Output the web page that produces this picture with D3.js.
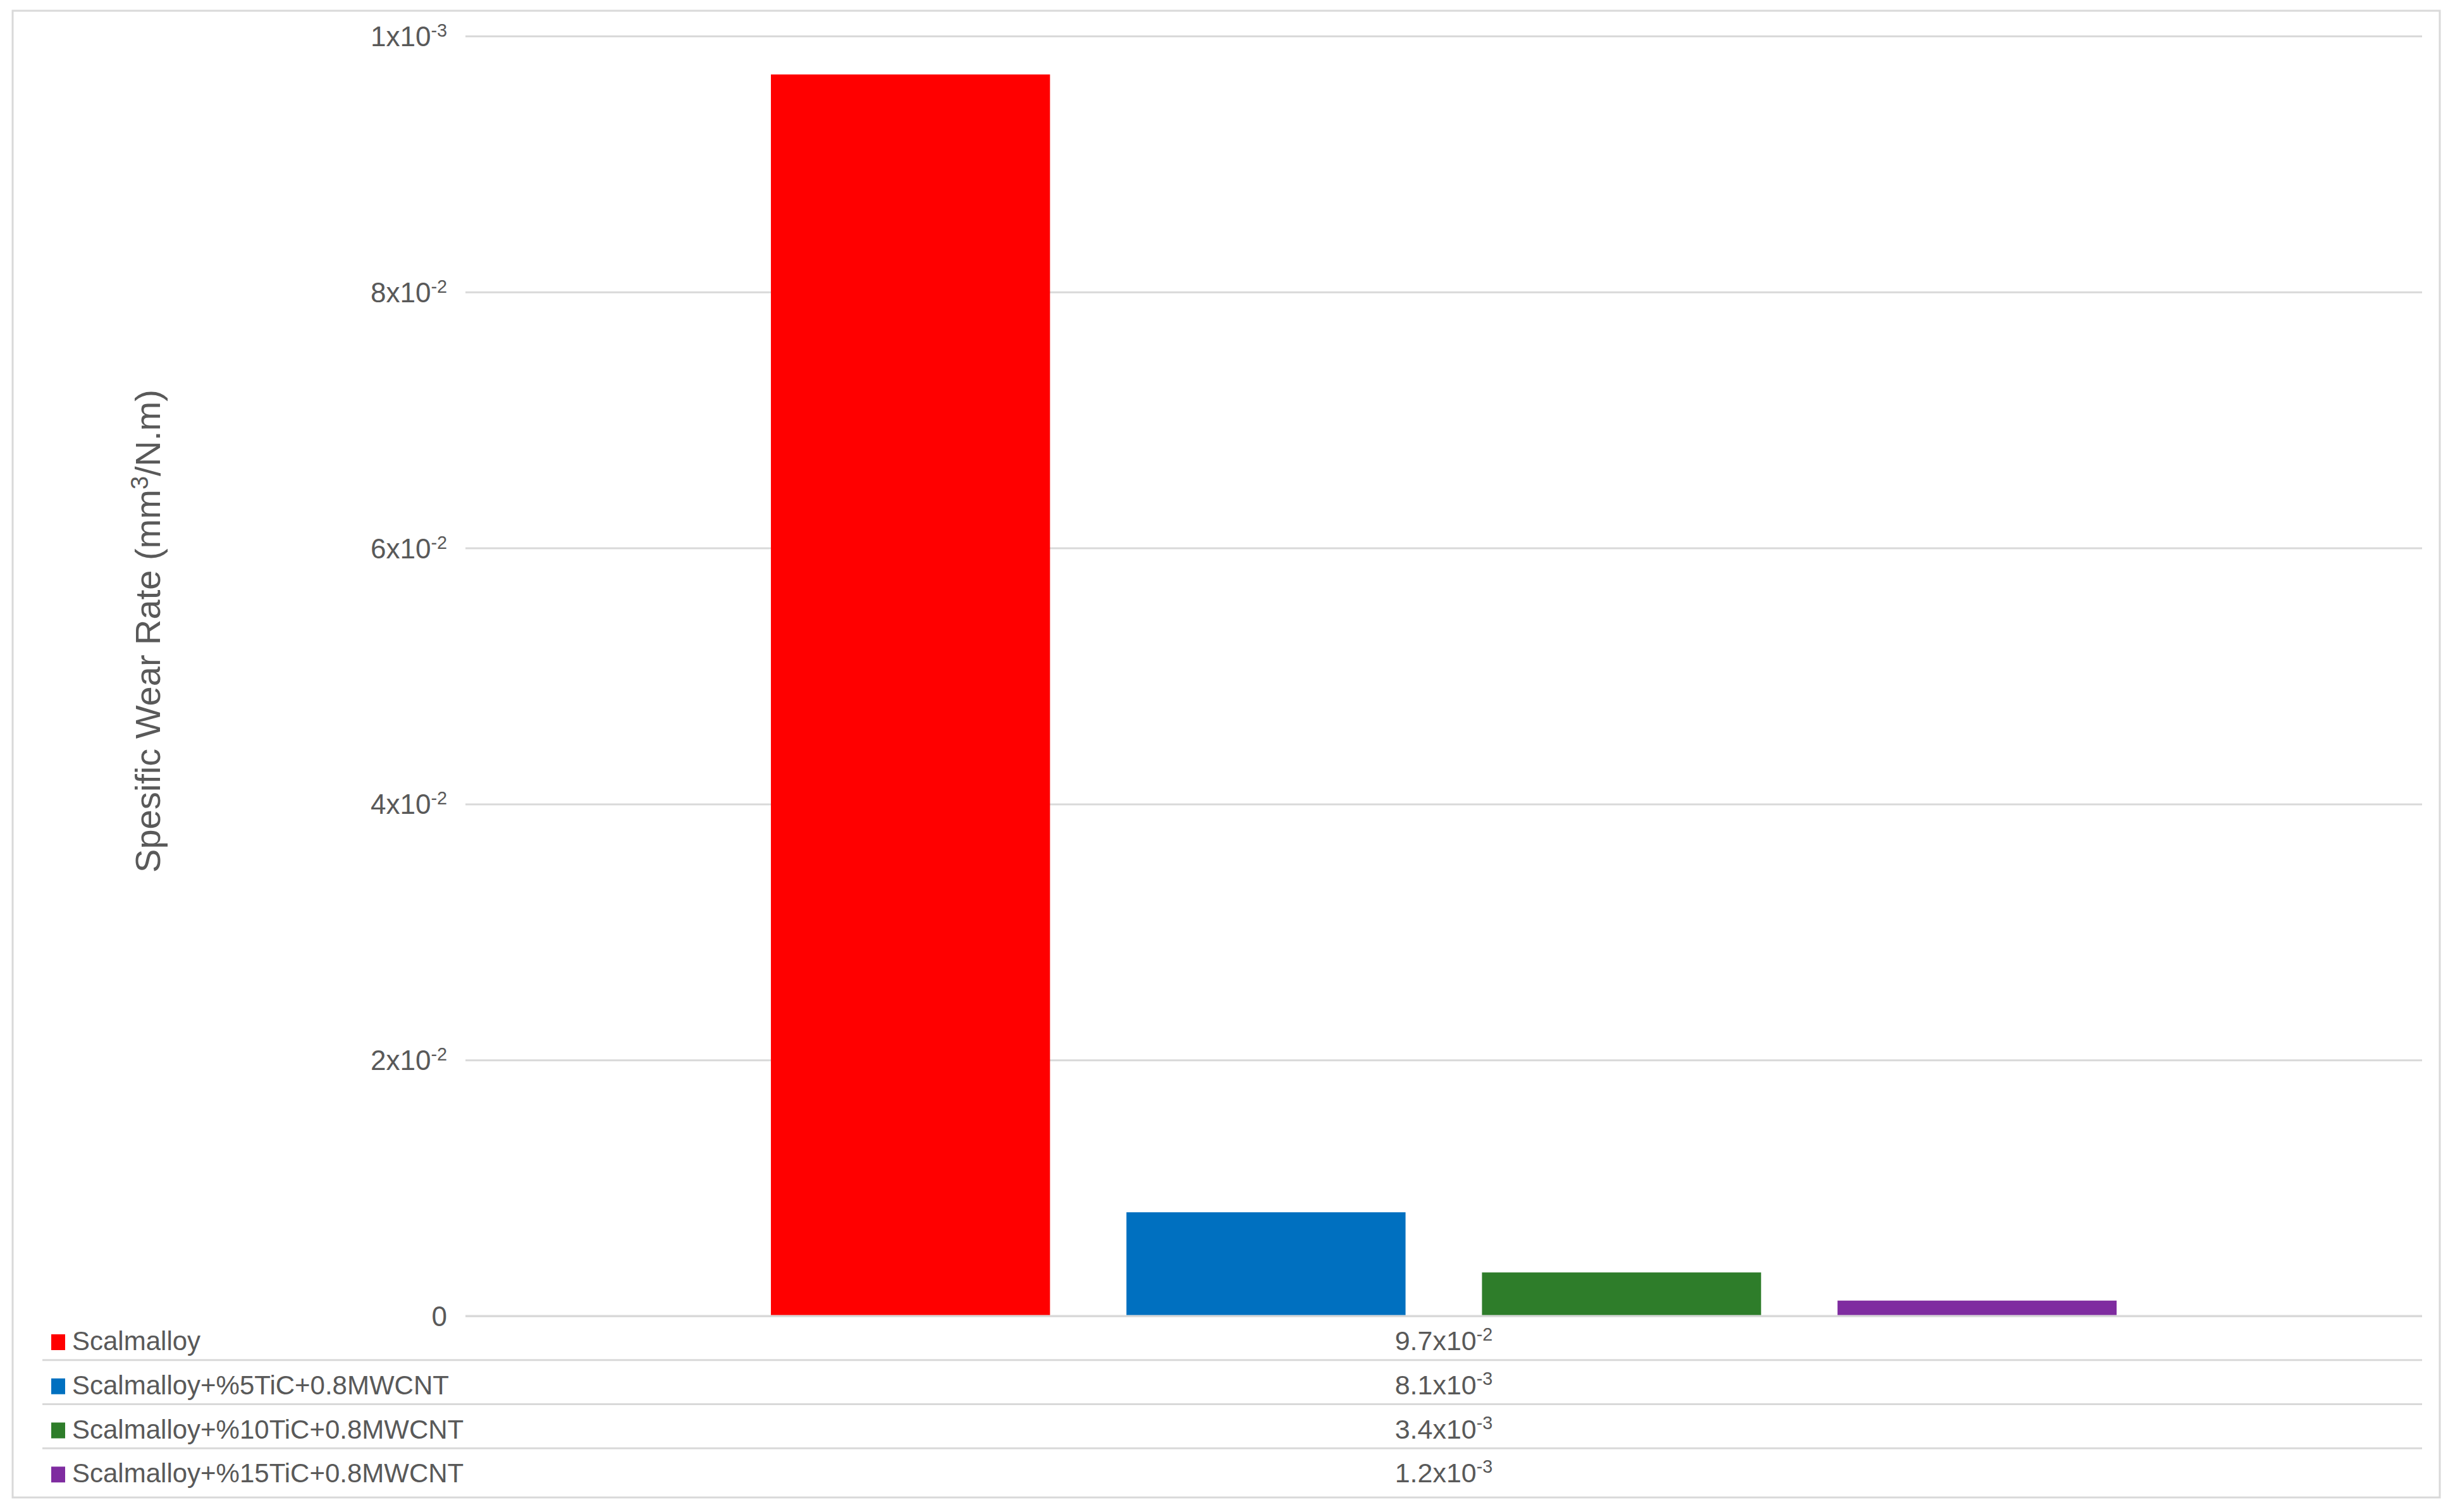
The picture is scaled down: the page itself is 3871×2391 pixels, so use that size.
<!DOCTYPE html>
<html>
<head>
<meta charset="utf-8">
<script src="https://cdn.jsdelivr.net/npm/d3@7"></script>
<style>
  body { margin: 0; background: #fff; }
  text { font-family: "Liberation Sans", Arial, sans-serif; fill: #595959; }
</style>
</head>
<body>
<div class="chart-container"></div>
<script>
// Data
const series = [
    "Scalmalloy",
    "Scalmalloy+%5TiC+0.8MWCNT",
    "Scalmalloy+%10TiC+0.8MWCNT",
    "Scalmalloy+%15TiC+0.8MWCNT"
];
const values = [9.7e-2, 8.1e-3, 3.4e-3, 1.2e-3];
const colors = ["#ff0000", "#0070c0", "#2e7d2a", "#7f2ca0"];
const yTicks = [0, 0.02, 0.04, 0.06, 0.08, 0.1];
// tick labels as printed on the original (base, superscript)
const yTickLabels = [["0", ""], ["2x10", "-2"], ["4x10", "-2"], ["6x10", "-2"], ["8x10", "-2"], ["1x10", "-3"]];
const yTitleParts = ["Spesific Wear Rate (mm", "3", "/N.m)"];

// Layout
const W = 3871, H = 2391;
const plot = { left: 736, right: 3830, top: 57, bottom: 2081 };
const tableBottom = 2360;
const fontSize = 43;

const svg = d3.select('.chart-container')
    .append('svg')
    .attr('width', W)
    .attr('height', H);

// outer frame
svg.append('rect')
    .attr('x', 20).attr('y', 17)
    .attr('width', 3838).attr('height', 2351)
    .attr('fill', '#fff')
    .attr('stroke', '#d9d9d9')
    .attr('stroke-width', 3);

// Scales
const y = d3.scaleLinear()
    .domain([0, 0.1])
    .range([plot.bottom, plot.top]);

const x0 = d3.scaleBand()
    .domain(["wear"])
    .range([plot.left, plot.right])
    .paddingOuter(0.227);

const x1 = d3.scaleBand()
    .domain(series)
    .range([0, x0.bandwidth()])
    .paddingInner(0.215);

// Gridlines + tick labels
const yAxis = d3.axisLeft(y)
    .tickValues(yTicks)
    .tickSize(-(plot.right - plot.left))
    .tickPadding(29)
    .tickFormat('');

const gy = svg.append('g')
    .attr('transform', `translate(${plot.left},0)`)
    .call(yAxis);

gy.select('.domain').remove();
gy.selectAll('.tick line')
    .attr('stroke', '#d9d9d9')
    .attr('stroke-width', 3);

gy.selectAll('.tick text')
    .attr('font-size', fontSize + 1)
    .attr('dy', '0.35em')
    .each(function (d, i) {
        const t = d3.select(this);
        t.text(null);
        t.append('tspan').text(yTickLabels[i][0]);
        if (yTickLabels[i][1]) {
            t.append('tspan')
                .attr('font-size', fontSize * 0.67)
                .attr('dy', -15)
                .text(yTickLabels[i][1]);
        }
    });

// Bars
svg.append('g')
    .selectAll('rect')
    .data(series)
    .join('rect')
    .attr('x', d => x0("wear") + x1(d))
    .attr('width', x1.bandwidth())
    .attr('y', (d, i) => y(values[i]))
    .attr('height', (d, i) => y(0) - y(values[i]))
    .attr('fill', (d, i) => colors[i]);

// redraw zero line on top of bars
svg.append('line')
    .attr('x1', plot.left).attr('x2', plot.right)
    .attr('y1', y(0)).attr('y2', y(0))
    .attr('stroke', '#d9d9d9')
    .attr('stroke-width', 3);

// Data table
const rows = d3.scaleBand()
    .domain(series)
    .range([plot.bottom, tableBottom]);

const table = svg.append('g');

table.selectAll('line.row')
    .data(series.slice(1))
    .join('line')
    .attr('class', 'row')
    .attr('x1', 67).attr('x2', plot.right)
    .attr('y1', d => rows(d)).attr('y2', d => rows(d))
    .attr('stroke', '#d9d9d9')
    .attr('stroke-width', 3);

const row = table.selectAll('g.entry')
    .data(series)
    .join('g')
    .attr('class', 'entry')
    .attr('transform', d => `translate(0,${rows(d) + 54})`);

row.append('rect')
    .attr('x', 81).attr('y', -25)
    .attr('width', 22).attr('height', 25)
    .attr('fill', (d, i) => colors[i]);

row.append('text')
    .attr('x', 114)
    .attr('font-size', fontSize - 1)
    .text(d => d);

const fmt = d3.format('.1e');
const valText = row.append('text')
    .attr('x', x0("wear") + x0.bandwidth() / 2)
    .attr('text-anchor', 'middle')
    .attr('font-size', fontSize);

valText.each(function (d, i) {
    const [m, e] = fmt(values[i]).split('e');
    const t = d3.select(this);
    t.append('tspan').text(m + 'x10');
    t.append('tspan')
        .attr('font-size', fontSize * 0.67)
        .attr('dy', -15)
        .text(e.replace('+', ''));
});

// Y axis title
const title = svg.append('text')
    .attr('transform', 'translate(253,998) rotate(-90)')
    .attr('text-anchor', 'middle')
    .attr('font-size', 56);

title.append('tspan').text(yTitleParts[0]);
title.append('tspan').attr('font-size', 38).attr('dy', -19).text(yTitleParts[1]);
title.append('tspan').attr('dy', 19).text(yTitleParts[2]);
</script>
</body>
</html>
